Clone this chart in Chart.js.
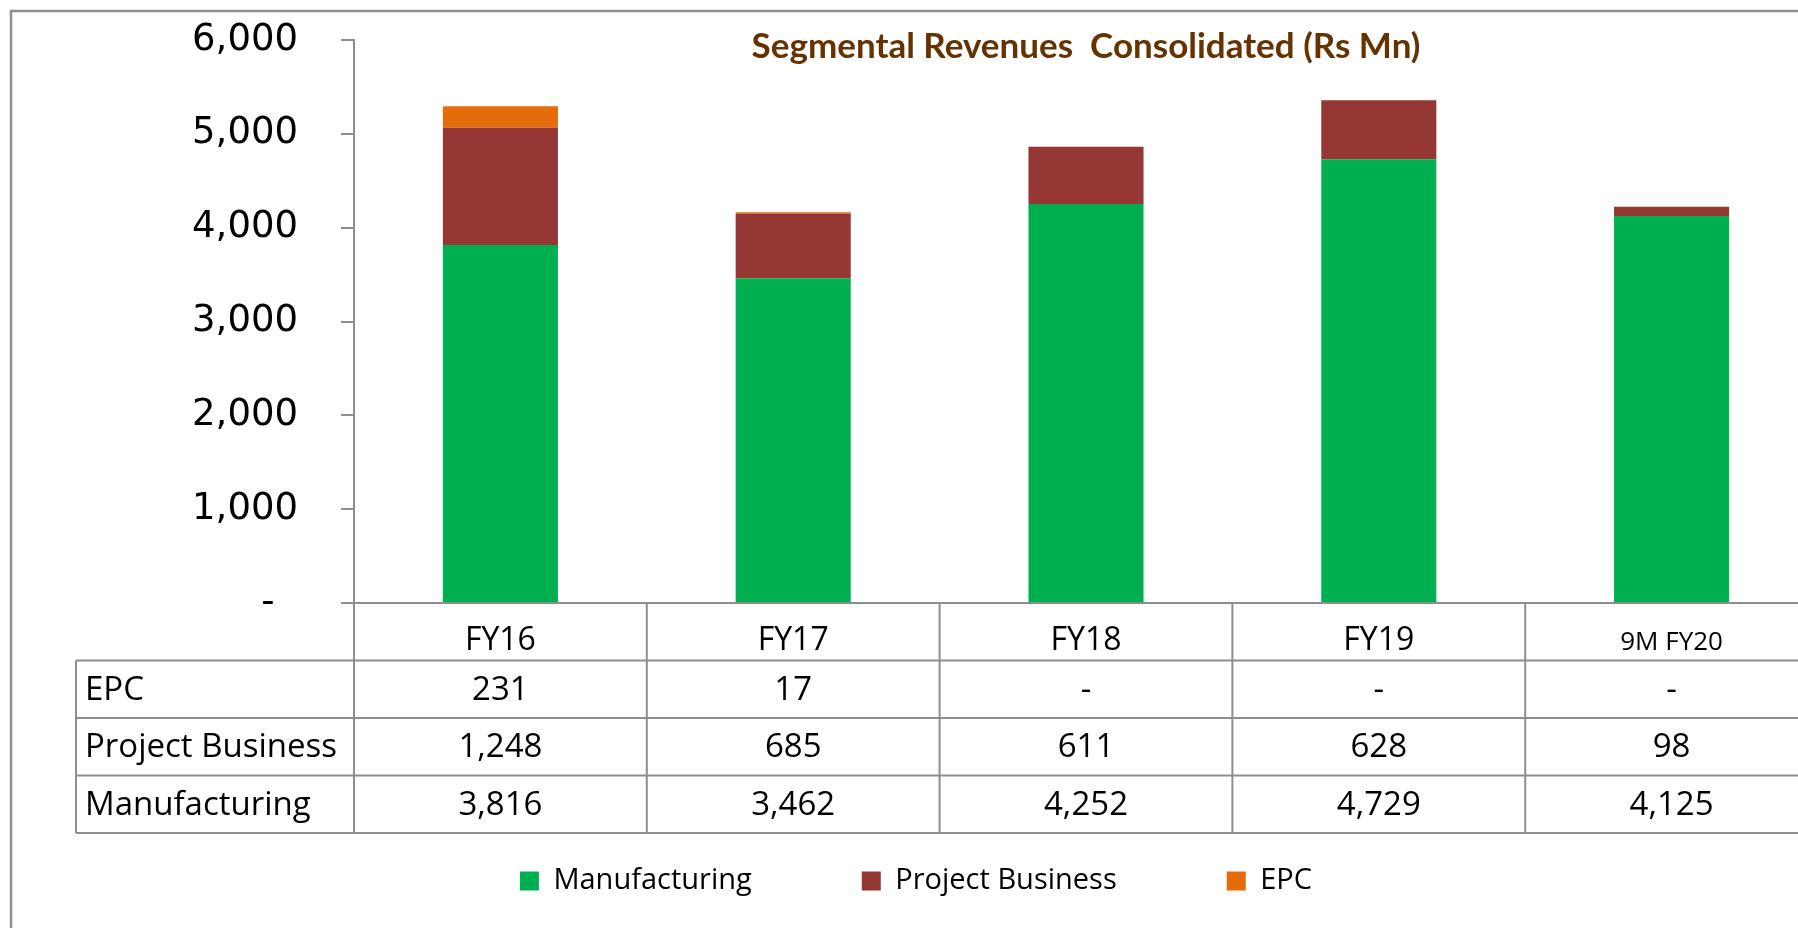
<!DOCTYPE html>
<html>
<head>
<meta charset="utf-8">
<title>Segmental Revenues Consolidated</title>
<script src="https://cdn.jsdelivr.net/npm/chart.js@4.4.1/dist/chart.umd.min.js"></script>
<style>
  html, body { margin: 0; padding: 0; background: #fff; overflow: hidden; }
  #wrap { width: 1798px; height: 928px; overflow: hidden; }
</style>
</head>
<body>
<div id="wrap"><canvas id="segChart" width="1818" height="928"></canvas></div>
<script>
// data (Rs Mn)
const categories = ['FY16', 'FY17', 'FY18', 'FY19', '9M FY20'];
const manufacturing = [3816, 3462, 4252, 4729, 4125];
const projectBusiness = [1248, 685, 611, 628, 98];
const epc = [231, 17, 0, 0, 0];
const yMax = 6000;
const yStep = 1000;

const lineGray = '#8e8e8e';
const tableFont = "'Open Sans', sans-serif";

// rows of the table under the chart, top to bottom
const tableRows = [
  { label: 'EPC', values: epc },
  { label: 'Project Business', values: projectBusiness },
  { label: 'Manufacturing', values: manufacturing }
];

function fmt(v) {
  return v === 0 ? '-' : v.toLocaleString('en-US');
}

// white background + the outer frame (right/bottom edges are cut off in the original)
const framePlugin = {
  id: 'frame',
  beforeDraw(chart) {
    const { ctx, width, height } = chart;
    ctx.save();
    ctx.fillStyle = '#fff';
    ctx.fillRect(0, 0, width, height);
    ctx.strokeStyle = lineGray;
    ctx.lineWidth = 2.5;
    ctx.beginPath();
    ctx.moveTo(11, height + 5);
    ctx.lineTo(11, 11);
    ctx.lineTo(width + 5, 11);
    ctx.stroke();
    ctx.restore();
  }
};

// data table drawn below the category labels
const tablePlugin = {
  id: 'dataTable',
  afterDraw(chart) {
    const { ctx, chartArea } = chart;
    const top = chartArea.bottom;
    const rowH = 57.5;
    const labelLeft = 76;
    const colW = (chartArea.right - chartArea.left) / categories.length;
    const bottom = top + rowH * (tableRows.length + 1);

    ctx.save();
    ctx.strokeStyle = lineGray;
    ctx.lineWidth = 2;
    ctx.beginPath();
    for (let r = 1; r <= tableRows.length + 1; r++) {
      const y = top + rowH * r;
      ctx.moveTo(labelLeft, y);
      ctx.lineTo(chart.width + 5, y);
    }
    ctx.moveTo(labelLeft, top + rowH);
    ctx.lineTo(labelLeft, bottom);
    for (let i = 0; i <= categories.length; i++) {
      const xx = chartArea.left + colW * i;
      ctx.moveTo(xx, top);
      ctx.lineTo(xx, bottom);
    }
    ctx.stroke();

    ctx.fillStyle = '#000';
    ctx.font = '33px ' + tableFont;
    ctx.textBaseline = 'middle';
    tableRows.forEach((row, r) => {
      const cy = top + rowH * (r + 1) + rowH / 2 + 1;
      ctx.textAlign = 'left';
      ctx.fillText(row.label, 85, cy);
      ctx.textAlign = 'center';
      row.values.forEach((v, i) => {
        ctx.fillText(fmt(v), chart.scales.x.getPixelForValue(i), cy);
      });
    });
    ctx.restore();
  }
};

const ctx = document.getElementById('segChart').getContext('2d');
new Chart(ctx, {
  type: 'bar',
  data: {
    labels: categories,
    datasets: [
      { label: 'Manufacturing', data: manufacturing, backgroundColor: '#00b050' },
      { label: 'Project Business', data: projectBusiness, backgroundColor: '#953735' },
      { label: 'EPC', data: epc, backgroundColor: '#e46c0a' }
    ]
  },
  plugins: [framePlugin, tablePlugin],
  options: {
    responsive: false,
    animation: false,
    categoryPercentage: 1,
    barPercentage: 0.393,
    layout: { padding: { top: 0, left: 14, right: 0, bottom: 22.5 } },
    plugins: {
      title: {
        display: true,
        fullSize: false,
        text: 'Segmental Revenues  Consolidated (Rs Mn)',
        color: '#663300',
        font: { family: 'Lato', size: 35, weight: 'bold', lineHeight: 1.2 },
        padding: { top: 26, bottom: -28 }
      },
      legend: {
        position: 'bottom',
        labels: {
          color: '#000',
          boxWidth: 19,
          boxHeight: 19,
          padding: 110,
          font: { family: tableFont, size: 29 }
        }
      },
      tooltip: { enabled: false }
    },
    scales: {
      x: {
        stacked: true,
        grid: { display: false },
        border: { display: true, color: lineGray, width: 2 },
        ticks: {
          color: '#000',
          autoSkip: false,
          maxRotation: 0,
          padding: 11,
          font: (c) => (c.index === categories.length - 1
            ? { family: tableFont, size: 26, lineHeight: 1.6 }
            : { family: tableFont, size: 32 })
        },
        afterFit(scale) { scale.height = 153.5; }
      },
      y: {
        stacked: true,
        min: 0,
        max: yMax,
        grid: { display: true, drawOnChartArea: false, drawTicks: true, tickLength: 13, color: lineGray, lineWidth: 2 },
        border: { display: true, color: lineGray, width: 2 },
        ticks: {
          stepSize: yStep,
          padding: 43,
          color: '#000',
          font: { family: 'DejaVu Sans', size: 37 },
          callback: (v) => (v === 0 ? '-  ' : v.toLocaleString('en-US'))
        },
        afterFit(scale) {
          scale.width = 340;
          // the big label padding would otherwise push the plot top down
          scale.paddingTop = 0;
          scale.paddingBottom = 0;
        }
      }
    }
  }
});
</script>
</body>
</html>
